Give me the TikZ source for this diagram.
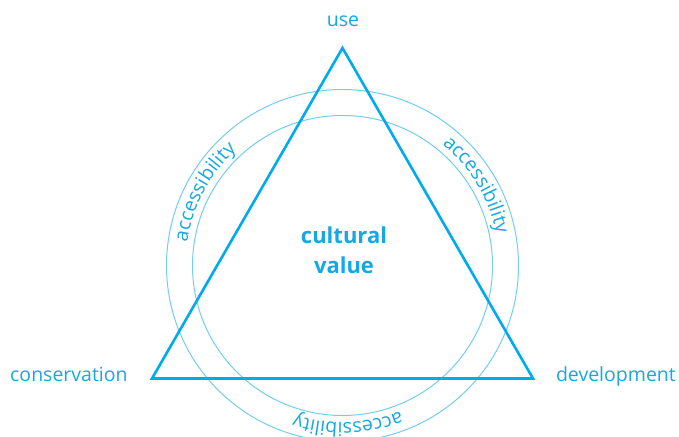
\documentclass[tikz,border=0pt]{standalone}
\usepackage{fontspec}
\setmainfont{Open Sans}
\usetikzlibrary{decorations.text}
\definecolor{tri}{RGB}{0,170,235}
\definecolor{ring}{RGB}{115,205,243}
\definecolor{lbl}{RGB}{20,168,228}
\tikzset{
  lab/.style={text=lbl, font=\fontsize{19.5}{23}\selectfont, inner sep=0pt, anchor=base},
  ringline/.style={draw=ring, line width=1pt},
  triline/.style={draw=tri, line width=2.6pt, line join=miter},
  curved/.style={decorate, decoration={text along path, text align=center,
      text color=lbl, text={|\fontsize{19.5}{23}\selectfont|accessibility}}}
}
\begin{document}
\begin{tikzpicture}[x=1pt,y=1pt]
\useasboundingbox (0,0) rectangle (679,436);
\clip (0,0) rectangle (679,436);
\coordinate (c) at (342.5,170.5);
\coordinate (top) at (342.5,388);
\coordinate (bl) at (152,57.5);
\coordinate (br) at (533,57.5);
\draw[ringline] (c) circle[radius=176];
\draw[ringline] (c) circle[radius=150];
\draw[triline] (top) -- (br) -- (bl) -- cycle;
\path[curved] (c) ++(192:157) arc[start angle=192, end angle=112, radius=157];
\path[curved] (c) ++(71:157) arc[start angle=71, end angle=-9, radius=157];
\path[curved] (c) ++(-48:157) arc[start angle=-48, end angle=-128, radius=157];
\node[lab] (use) at (343,409) {use};
\node[lab, anchor=base west] (cons) at (10,54.5) {conservation};
\node[lab, anchor=base east] (dev) at (676,54.5) {development};
\node[text=lbl, font=\fontsize{22}{30}\selectfont\bfseries, align=center, inner sep=0pt] (cv) at (344,186) {cultural\\value};
\end{tikzpicture}
\end{document}
